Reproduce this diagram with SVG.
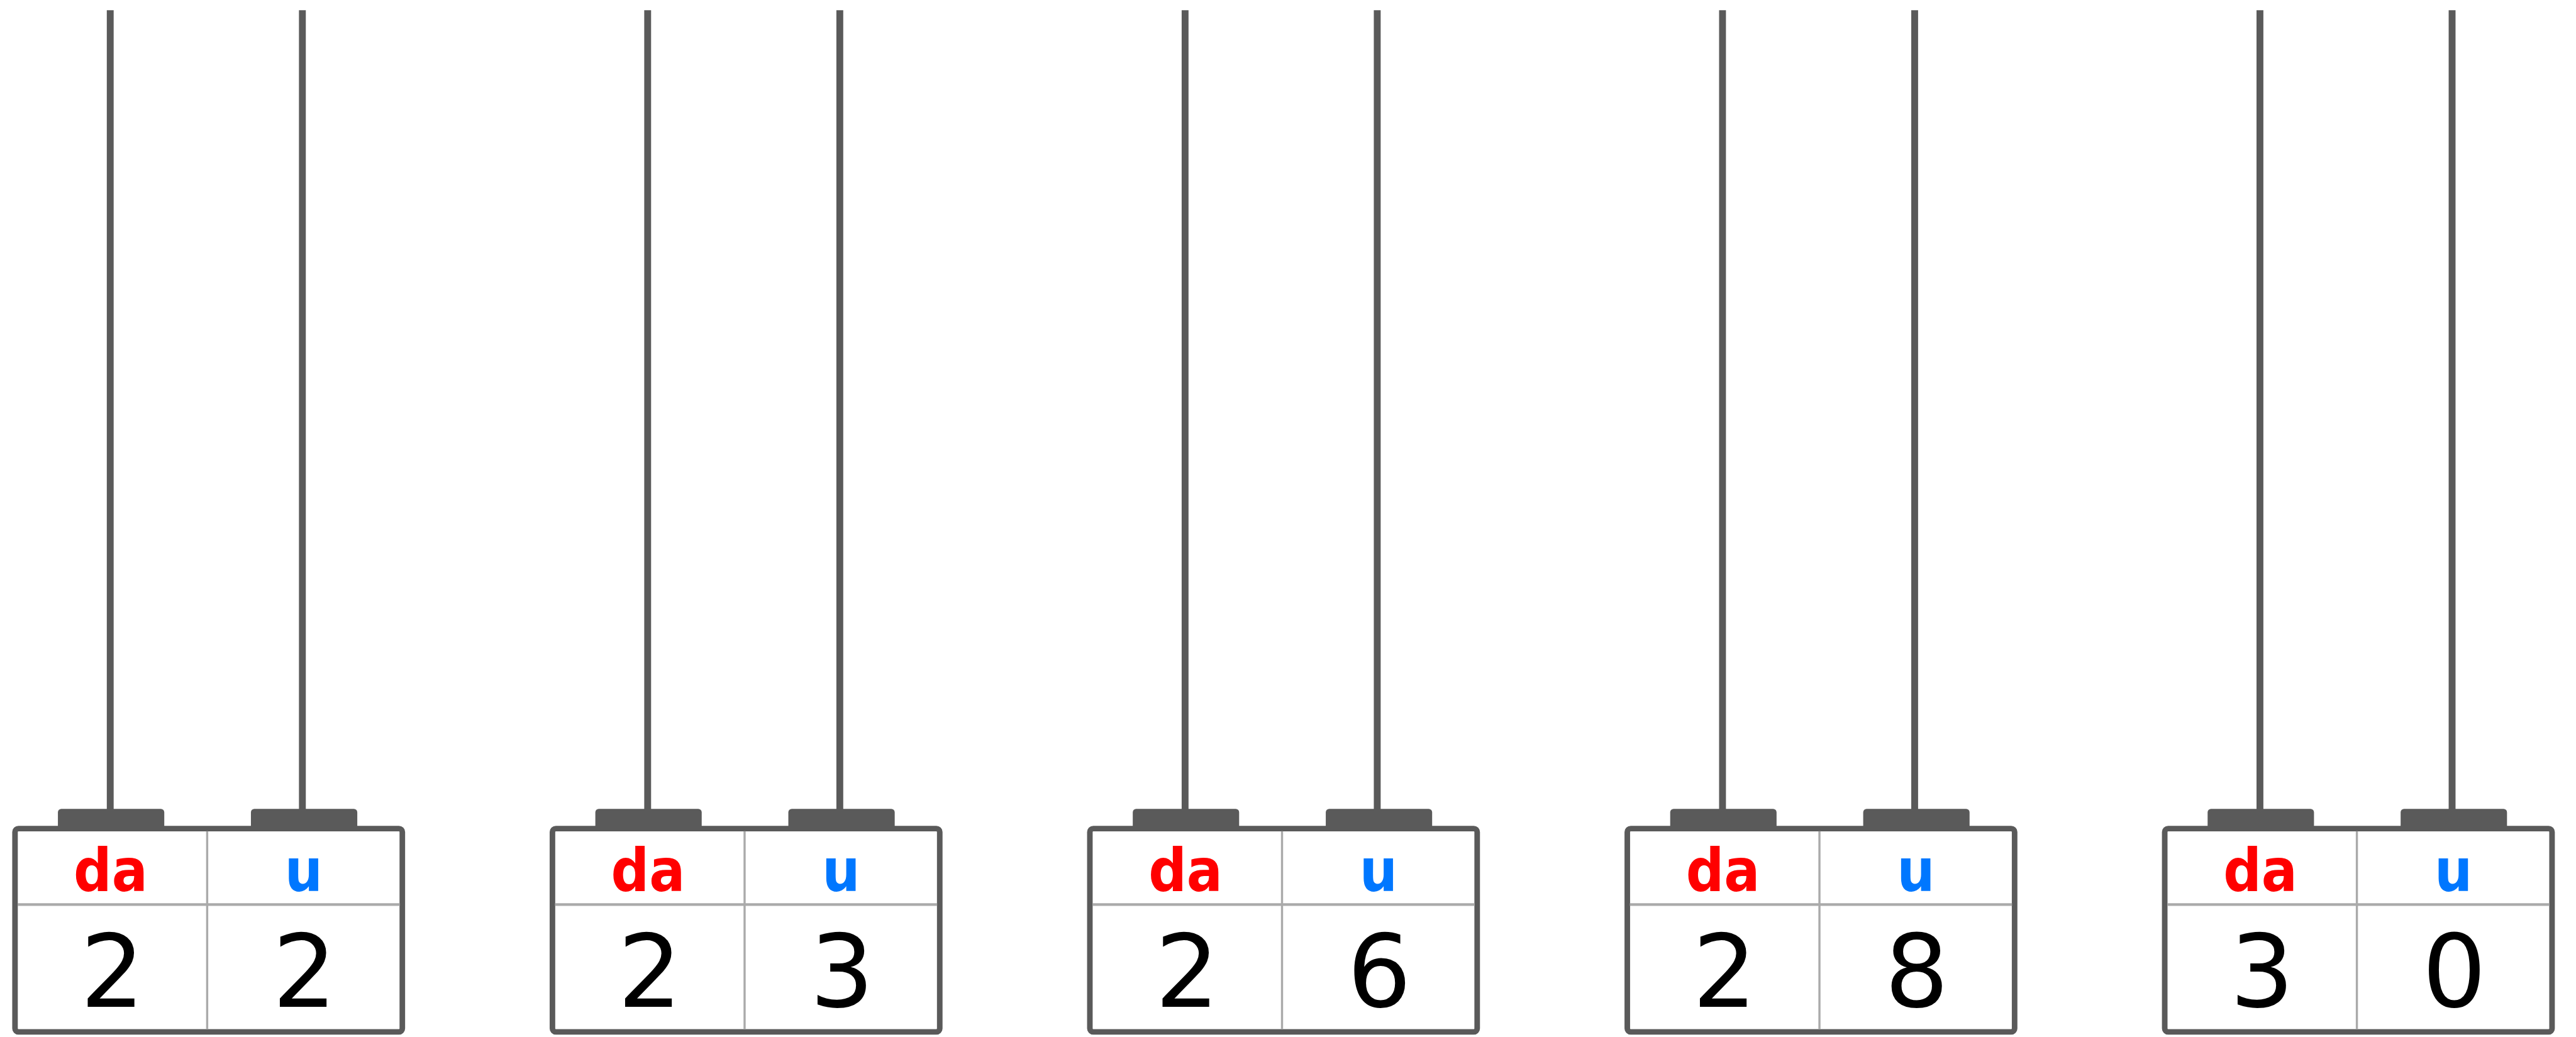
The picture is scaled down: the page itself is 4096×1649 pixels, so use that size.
<svg xmlns="http://www.w3.org/2000/svg" width="4096" height="1649" viewBox="0 0 4096 1649">
<style>
.rod{stroke:#5a5a5a;stroke-width:16;fill:none}
.tab{fill:#5a5a5a}
.frame{fill:#ffffff;stroke:#5a5a5a;stroke-width:13}
.div{stroke:#aaaaaa;stroke-width:5}
.hdiv{stroke:#aaaaaa;stroke-width:6}
.lbl{font-family:"DejaVu Sans Condensed","DejaVu Sans",sans-serif;font-stretch:condensed;font-weight:bold;font-size:138px;text-anchor:middle}
.da{fill:#ff0000}
.u{fill:#0077ff}
.num{font-family:"DejaVu Sans",sans-serif;font-size:235px;text-anchor:middle;fill:#000000}
</style>
<rect width="4096" height="1649" fill="#ffffff"/>
<g transform="scale(0.682)">
<g id="connectors">
<line class="rod" x1="257" y1="24" x2="257" y2="1890"/>
<line class="rod" x1="705" y1="24" x2="705" y2="1890"/>
<line class="rod" x1="1510" y1="24" x2="1510" y2="1890"/>
<line class="rod" x1="1958" y1="24" x2="1958" y2="1890"/>
<line class="rod" x1="2763" y1="24" x2="2763" y2="1890"/>
<line class="rod" x1="3211" y1="24" x2="3211" y2="1890"/>
<line class="rod" x1="4016" y1="24" x2="4016" y2="1890"/>
<line class="rod" x1="4464" y1="24" x2="4464" y2="1890"/>
<line class="rod" x1="5269" y1="24" x2="5269" y2="1890"/>
<line class="rod" x1="5717" y1="24" x2="5717" y2="1890"/>
</g>
<g id="abacus1">
<rect class="tab" x="135" y="1886" width="248" height="52" rx="8"/>
<rect class="tab" x="585" y="1886" width="248" height="52" rx="8"/>
<rect class="frame" x="35" y="1932" width="903" height="474" rx="8"/>
<line class="div" x1="483" y1="1938" x2="483" y2="2400"/>
<line class="hdiv" x1="41" y1="2109" x2="932" y2="2109"/>
<text class="lbl da" x="258" y="2078">da</text>
<text class="lbl u" x="708" y="2078">u</text>
<text class="num" x="262" y="2348">2</text>
<text class="num" x="710" y="2348">2</text>
</g>
<g id="abacus2" transform="translate(1253,0)">
<rect class="tab" x="135" y="1886" width="248" height="52" rx="8"/>
<rect class="tab" x="585" y="1886" width="248" height="52" rx="8"/>
<rect class="frame" x="35" y="1932" width="903" height="474" rx="8"/>
<line class="div" x1="483" y1="1938" x2="483" y2="2400"/>
<line class="hdiv" x1="41" y1="2109" x2="932" y2="2109"/>
<text class="lbl da" x="258" y="2078">da</text>
<text class="lbl u" x="708" y="2078">u</text>
<text class="num" x="262" y="2348">2</text>
<text class="num" x="710" y="2348">3</text>
</g>
<g id="abacus3" transform="translate(2506,0)">
<rect class="tab" x="135" y="1886" width="248" height="52" rx="8"/>
<rect class="tab" x="585" y="1886" width="248" height="52" rx="8"/>
<rect class="frame" x="35" y="1932" width="903" height="474" rx="8"/>
<line class="div" x1="483" y1="1938" x2="483" y2="2400"/>
<line class="hdiv" x1="41" y1="2109" x2="932" y2="2109"/>
<text class="lbl da" x="258" y="2078">da</text>
<text class="lbl u" x="708" y="2078">u</text>
<text class="num" x="262" y="2348">2</text>
<text class="num" x="710" y="2348">6</text>
</g>
<g id="abacus4" transform="translate(3759,0)">
<rect class="tab" x="135" y="1886" width="248" height="52" rx="8"/>
<rect class="tab" x="585" y="1886" width="248" height="52" rx="8"/>
<rect class="frame" x="35" y="1932" width="903" height="474" rx="8"/>
<line class="div" x1="483" y1="1938" x2="483" y2="2400"/>
<line class="hdiv" x1="41" y1="2109" x2="932" y2="2109"/>
<text class="lbl da" x="258" y="2078">da</text>
<text class="lbl u" x="708" y="2078">u</text>
<text class="num" x="262" y="2348">2</text>
<text class="num" x="710" y="2348">8</text>
</g>
<g id="abacus5" transform="translate(5012,0)">
<rect class="tab" x="135" y="1886" width="248" height="52" rx="8"/>
<rect class="tab" x="585" y="1886" width="248" height="52" rx="8"/>
<rect class="frame" x="35" y="1932" width="903" height="474" rx="8"/>
<line class="div" x1="483" y1="1938" x2="483" y2="2400"/>
<line class="hdiv" x1="41" y1="2109" x2="932" y2="2109"/>
<text class="lbl da" x="258" y="2078">da</text>
<text class="lbl u" x="708" y="2078">u</text>
<text class="num" x="262" y="2348">3</text>
<text class="num" x="710" y="2348">0</text>
</g>
</g>
</svg>
